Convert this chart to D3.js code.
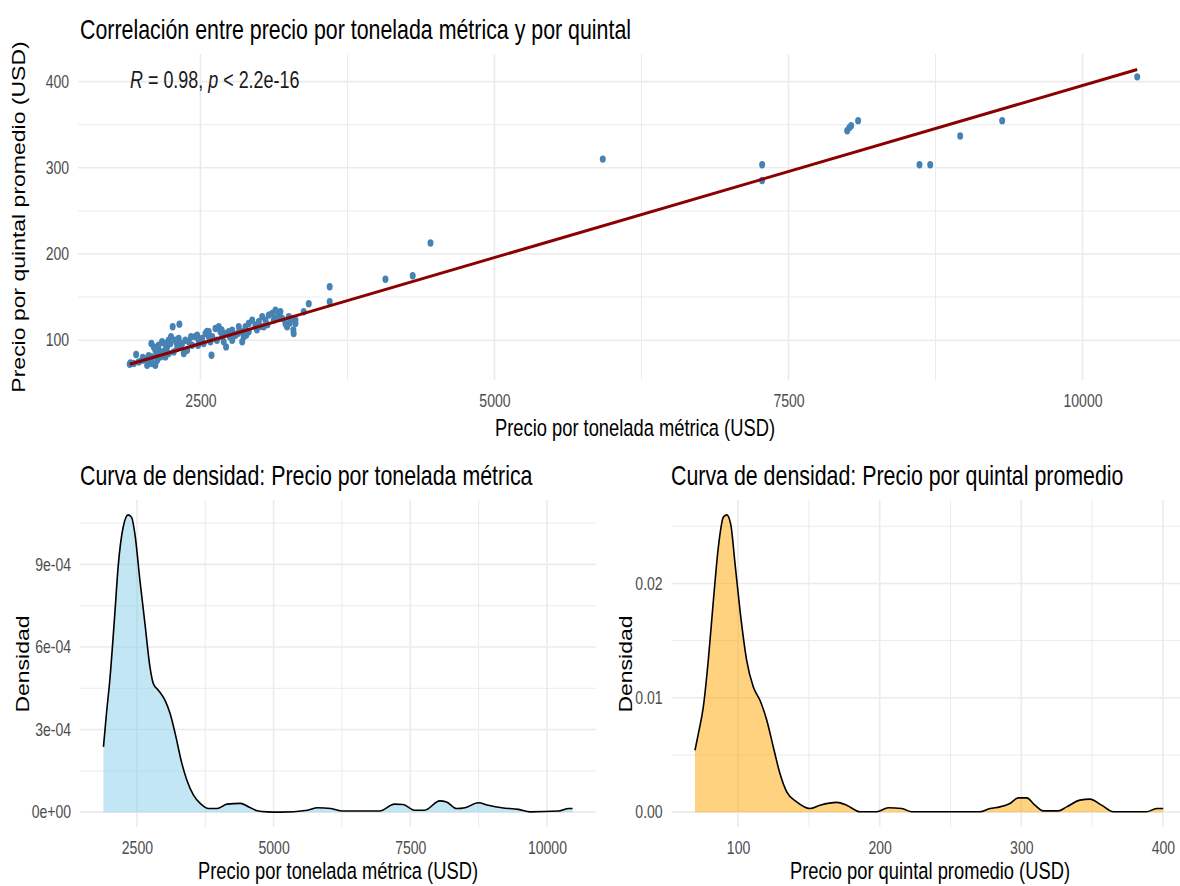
<!DOCTYPE html>
<html>
<head>
<meta charset="utf-8">
<script src="https://cdn.jsdelivr.net/npm/d3@7"></script>
<style>
  body { margin: 0; background: #fff; }
  svg { display: block; font-family: "Liberation Sans", Arial, sans-serif; }
</style>
</head>
<body>
<svg id="chart" width="1180" height="886"></svg>
<script>
// precio por tonelada metrica (USD) y por quintal promedio (USD)
var precioTonelada = [1899, 1905, 1933, 1953, 1975, 2004, 2032, 2060, 2089, 2083, 2103, 2117, 2132, 2145, 2174, 2196, 2217, 2245, 2264, 2321,
  2287, 2315, 2344, 2372, 2401, 2387, 2358, 2429, 2457, 2486, 2514, 2543, 2571, 2472, 2528, 2117, 2160, 2202, 2230, 2273,
  2302, 2330, 2089, 2047, 2132, 2174, 2556, 2571, 2585, 2594, 2628, 2656, 2670, 2685, 2698, 2713, 2741, 2770, 2798, 2826,
  2855, 2868, 2883, 2911, 2940, 2968, 2996, 3025, 3053, 3081, 3110, 3138, 3166, 3195, 3223, 3251, 3280, 3293, 3308, 2855,
  2770, 2911, 3038, 3123, 3180, 2718, 3237, 3231, 3290, 3308, 3378, 3421, 3599, 3599, 4073, 4305, 4456, 5921, 7276, 7276,
  7999, 8018, 8033, 8092, 8614, 8705, 8960, 9317, 10465,
  2230, 2250, 2300, 2420, 2600, 2640, 2750, 2890, 2980, 3010, 3070, 3150, 3260, 2200, 2060, 2010, 2140, 2480, 2680, 2820];
var precioQuintal = [72, 73.6, 72.9, 83.4, 74.8, 76.7, 77.5, 75.9, 80.6, 96.1, 92.2, 88.4, 84.5, 94.2, 98.1, 96.1, 92.2, 96.1, 115.5, 118.6,
  100, 102, 96.1, 100, 98.1, 88.4, 84.5, 94.2, 103.9, 100, 102, 107.8, 103.9, 105.8, 96.1, 70.9, 80.6, 80.6, 84.5, 86.4,
  90.3, 92.2, 72.9, 70.9, 76.7, 86.4, 110, 109.7, 98.1, 82.6, 113.6, 115.5, 109.7, 103.9, 98.1, 107.8, 109.7, 111.6, 105.8, 115.5,
  109.7, 103.9, 115.5, 119.4, 123.3, 117.4, 121.3, 127.1, 123.3, 129.1, 131, 134.9, 129.1, 125.2, 119.4, 127.1, 125.2, 107.8, 119.4, 98.1,
  100, 109.7, 115.5, 123.3, 132.9, 92.2, 115.5, 117.4, 112, 123.3, 132.9, 142.2, 144.5, 162, 170.6, 174.8, 212.8, 310.1, 303.5, 285.2,
  343, 346.6, 348.8, 354.7, 303.5, 303.5, 336.9, 354.7, 405.5,
  100, 104, 96, 104, 104, 100, 104, 106, 112, 116, 118, 126, 120, 88, 82, 80, 90, 94, 112, 108];

// recta de regresion lineal (extremos)
var ajusteX = [1899, 10465];
var ajusteY = [72, 414];

// curva de densidad: precio por tonelada
var densTonX = [1888, 1943, 2004, 2096, 2156, 2248, 2340, 2403, 2463, 2555, 2647, 2739, 2800, 2892, 3015, 3107, 3199, 3322, 3414, 3535,
  3658, 3811, 3965, 4149, 4393, 4546, 4700, 4884, 5129, 5620, 5803, 6048, 6263, 6936, 7212, 7366, 7579, 7763, 8039, 8162,
  8346, 8499, 8744, 8928, 9173, 9480, 9693, 10215, 10399, 10468];
var densTonY = [0.000237, 0.000358, 0.000479, 0.000721, 0.000890, 0.001035, 0.001080, 0.001071, 0.001011, 0.000842,
  0.000685, 0.000527, 0.000467, 0.000443, 0.000406, 0.000358, 0.000286, 0.000177, 0.000116, 0.000062,
  0.000032, 0.000013, 0.000013, 0.000029, 0.000032, 0.000019, 0.000005, 0.000001, 0.000000, 0.000007,
  0.000016, 0.000013, 0.000004, 0.000004, 0.000029, 0.000028, 0.000007, 0.000007, 0.000041, 0.000037,
  0.000013, 0.000016, 0.000034, 0.000025, 0.000016, 0.000010, 0.000001, 0.000004, 0.000013, 0.000013];

// curva de densidad: precio por quintal
var densQuiX = [69.6, 72.0, 75.5, 79.0, 82.6, 86.1, 89.6, 92.0, 94.8, 97.9, 101.4, 106.1, 110.8, 115.5, 120.3, 124.9, 129.6, 134.4,
  141.4, 150.8, 157.9, 169.7, 176.7, 186.1, 197.9, 206.1, 215.6, 222.6, 270.8, 277.9, 284.9, 292.0, 297.9, 303.8, 309.6,
  315.5, 326.1, 332.0, 341.4, 348.5, 356.7, 364.9, 388.5, 395.5, 400.2];
var densQuiY = [0.00541, 0.00687, 0.00920, 0.01328, 0.01852, 0.02317, 0.02579, 0.02600, 0.02521, 0.02172, 0.01764, 0.01328,
  0.01094, 0.00978, 0.00804, 0.00570, 0.00338, 0.00177, 0.00090, 0.00032, 0.00061, 0.00085, 0.00061, 0.00003, 0.00003,
  0.00038, 0.00032, 0.00003, 0.00003, 0.00032, 0.00046, 0.00076, 0.00125, 0.00125, 0.00061, 0.00011, 0.00011, 0.00046,
  0.00105, 0.00114, 0.00061, 0.00003, 0.00003, 0.00032, 0.00032];

// ticks
var ticksTon = [2500, 5000, 7500, 10000];
var minorTon = [3750, 6250, 8750];
var ticksQuiScatter = [100, 200, 300, 400];
var minorQuiScatter = [150, 250, 350];
var ticksDensTon = [0, 0.0003, 0.0006, 0.0009];
var labelsDensTon = ["0e+00", "3e-04", "6e-04", "9e-04"];
var minorDensTon = [0.00015, 0.00045, 0.00075, 0.00105];
var ticksQui = [100, 200, 300, 400];
var minorQui = [150, 250, 350];
var ticksDensQui = [0, 0.01, 0.02];
var labelsDensQui = ["0.00", "0.01", "0.02"];
var minorDensQui = [0.005, 0.015, 0.025];

var SQ = 0.78;   // the picture is squeezed horizontally
var svg = d3.select("#chart");

function gridLines(g, x, y, xs, ys, w) {
  g.selectAll(null).data(xs).enter().append("line")
    .attr("x1", d => x(d)).attr("x2", d => x(d))
    .attr("y1", y.range()[0]).attr("y2", y.range()[1])
    .attr("stroke", "#ebebeb").attr("stroke-width", w);
  g.selectAll(null).data(ys).enter().append("line")
    .attr("x1", x.range()[0]).attr("x2", x.range()[1])
    .attr("y1", d => y(d)).attr("y2", d => y(d))
    .attr("stroke", "#ebebeb").attr("stroke-width", w);
}

function axes(g, x, y, xt, yt, ylab) {
  var ax = g.append("g").attr("transform", "translate(0," + y.range()[0] + ")")
    .call(d3.axisBottom(x).tickValues(xt).tickSize(0).tickPadding(14).tickFormat(d3.format("d")));
  var ay = g.append("g").attr("transform", "translate(" + x.range()[0] + ",0)")
    .call(d3.axisLeft(y).tickValues(yt).tickSize(0).tickPadding(11.5)
      .tickFormat((d, i) => ylab ? ylab[i] : d));
  [ax, ay].forEach(a => {
    a.select(".domain").remove();
    a.selectAll("text").attr("font-size", 18).attr("fill", "#4d4d4d")
      .attr("font-family", "Liberation Sans, Arial, sans-serif")
      .attr("transform", "scale(" + SQ + ",1)");
  });
}

function label(txt, x, y, size, anchor) {
  return svg.append("text").attr("transform", "translate(" + x + "," + y + ") scale(" + SQ + ",1)")
    .attr("font-size", size).attr("text-anchor", anchor || "start").attr("fill", "#000").text(txt);
}

function vlabel(txt, x, y, size) {
  return svg.append("text").attr("transform", "translate(" + x + "," + y + ") rotate(-90) scale(1," + SQ + ")")
    .attr("font-size", size).attr("text-anchor", "middle").attr("fill", "#000").text(txt);
}

// ---------- scatter ----------
var x1 = d3.scaleLinear().domain([1459, 10897]).range([78, 1188]);
var y1 = d3.scaleLinear().domain([53.8, 432]).range([380, 54]);
var g1 = svg.append("g");
gridLines(g1, x1, y1, minorTon, minorQuiScatter, 1);
gridLines(g1, x1, y1, ticksTon, ticksQuiScatter, 1.6);
axes(g1, x1, y1, ticksTon, ticksQuiScatter);

g1.selectAll("ellipse").data(precioTonelada).enter().append("ellipse")
  .attr("cx", d => x1(d))
  .attr("cy", (d, i) => y1(precioQuintal[i]))
  .attr("rx", 3).attr("ry", 3.7)
  .attr("fill", "steelblue");

g1.append("path")
  .datum(ajusteX.map((d, i) => [d, ajusteY[i]]))
  .attr("d", d3.line().x(d => x1(d[0])).y(d => y1(d[1])))
  .attr("stroke", "darkred").attr("stroke-width", 3).attr("fill", "none");

label("Correlación entre precio por tonelada métrica y por quintal", 80, 39, 27.4);
var ann = svg.append("text").attr("transform", "translate(130,88) scale(" + SQ + ",1)")
  .attr("font-size", 23).attr("fill", "#1a1a1a");
ann.append("tspan").attr("font-style", "italic").text("R");
ann.append("tspan").text(" = 0.98, ");
ann.append("tspan").attr("font-style", "italic").text("p");
ann.append("tspan").text(" < 2.2e-16");
label("Precio por tonelada métrica (USD)", 635, 436, 23.5, "middle");
vlabel("Precio por quintal promedio (USD)", 25, 217, 23);

// ---------- densidad tonelada ----------
var x2 = d3.scaleLinear().domain([1459, 10897]).range([80, 596]);
var y2 = d3.scaleLinear().domain([-0.000054, 0.001134]).range([827, 500]);
var g2 = svg.append("g");
gridLines(g2, x2, y2, minorTon, minorDensTon, 1);
gridLines(g2, x2, y2, ticksTon, ticksDensTon, 1.6);
axes(g2, x2, y2, ticksTon, ticksDensTon, labelsDensTon);
var ton = densTonX.map((d, i) => [d, densTonY[i]]);
g2.append("path").datum(ton)
  .attr("d", d3.area().curve(d3.curveMonotoneX).x(d => x2(d[0])).y0(y2(0)).y1(d => y2(d[1])))
  .attr("fill", "skyblue").attr("fill-opacity", 0.5);
g2.append("path").datum(ton)
  .attr("d", d3.line().curve(d3.curveMonotoneX).x(d => x2(d[0])).y(d => y2(d[1])))
  .attr("fill", "none").attr("stroke", "#000").attr("stroke-width", 1.6);
label("Curva de densidad: Precio por tonelada métrica", 80, 485, 27.4);
label("Precio por tonelada métrica (USD)", 338, 879, 23.5, "middle");
vlabel("Densidad", 29, 664, 23);

// ---------- densidad quintal ----------
var x3 = d3.scaleLinear().domain([53.1, 416.7]).range([671.6, 1186.6]);
var y3 = d3.scaleLinear().domain([-0.0013, 0.0273]).range([827, 500]);
var g3 = svg.append("g");
gridLines(g3, x3, y3, minorQui, minorDensQui, 1);
gridLines(g3, x3, y3, ticksQui, ticksDensQui, 1.6);
axes(g3, x3, y3, ticksQui, ticksDensQui, labelsDensQui);
var qui = densQuiX.map((d, i) => [d, densQuiY[i]]);
g3.append("path").datum(qui)
  .attr("d", d3.area().curve(d3.curveMonotoneX).x(d => x3(d[0])).y0(y3(0)).y1(d => y3(d[1])))
  .attr("fill", "orange").attr("fill-opacity", 0.5);
g3.append("path").datum(qui)
  .attr("d", d3.line().curve(d3.curveMonotoneX).x(d => x3(d[0])).y(d => y3(d[1])))
  .attr("fill", "none").attr("stroke", "#000").attr("stroke-width", 1.6);
label("Curva de densidad: Precio por quintal promedio", 671, 485, 27.4);
label("Precio por quintal promedio (USD)", 930, 879, 23.5, "middle");
vlabel("Densidad", 632, 664, 23);
</script>
</body>
</html>
